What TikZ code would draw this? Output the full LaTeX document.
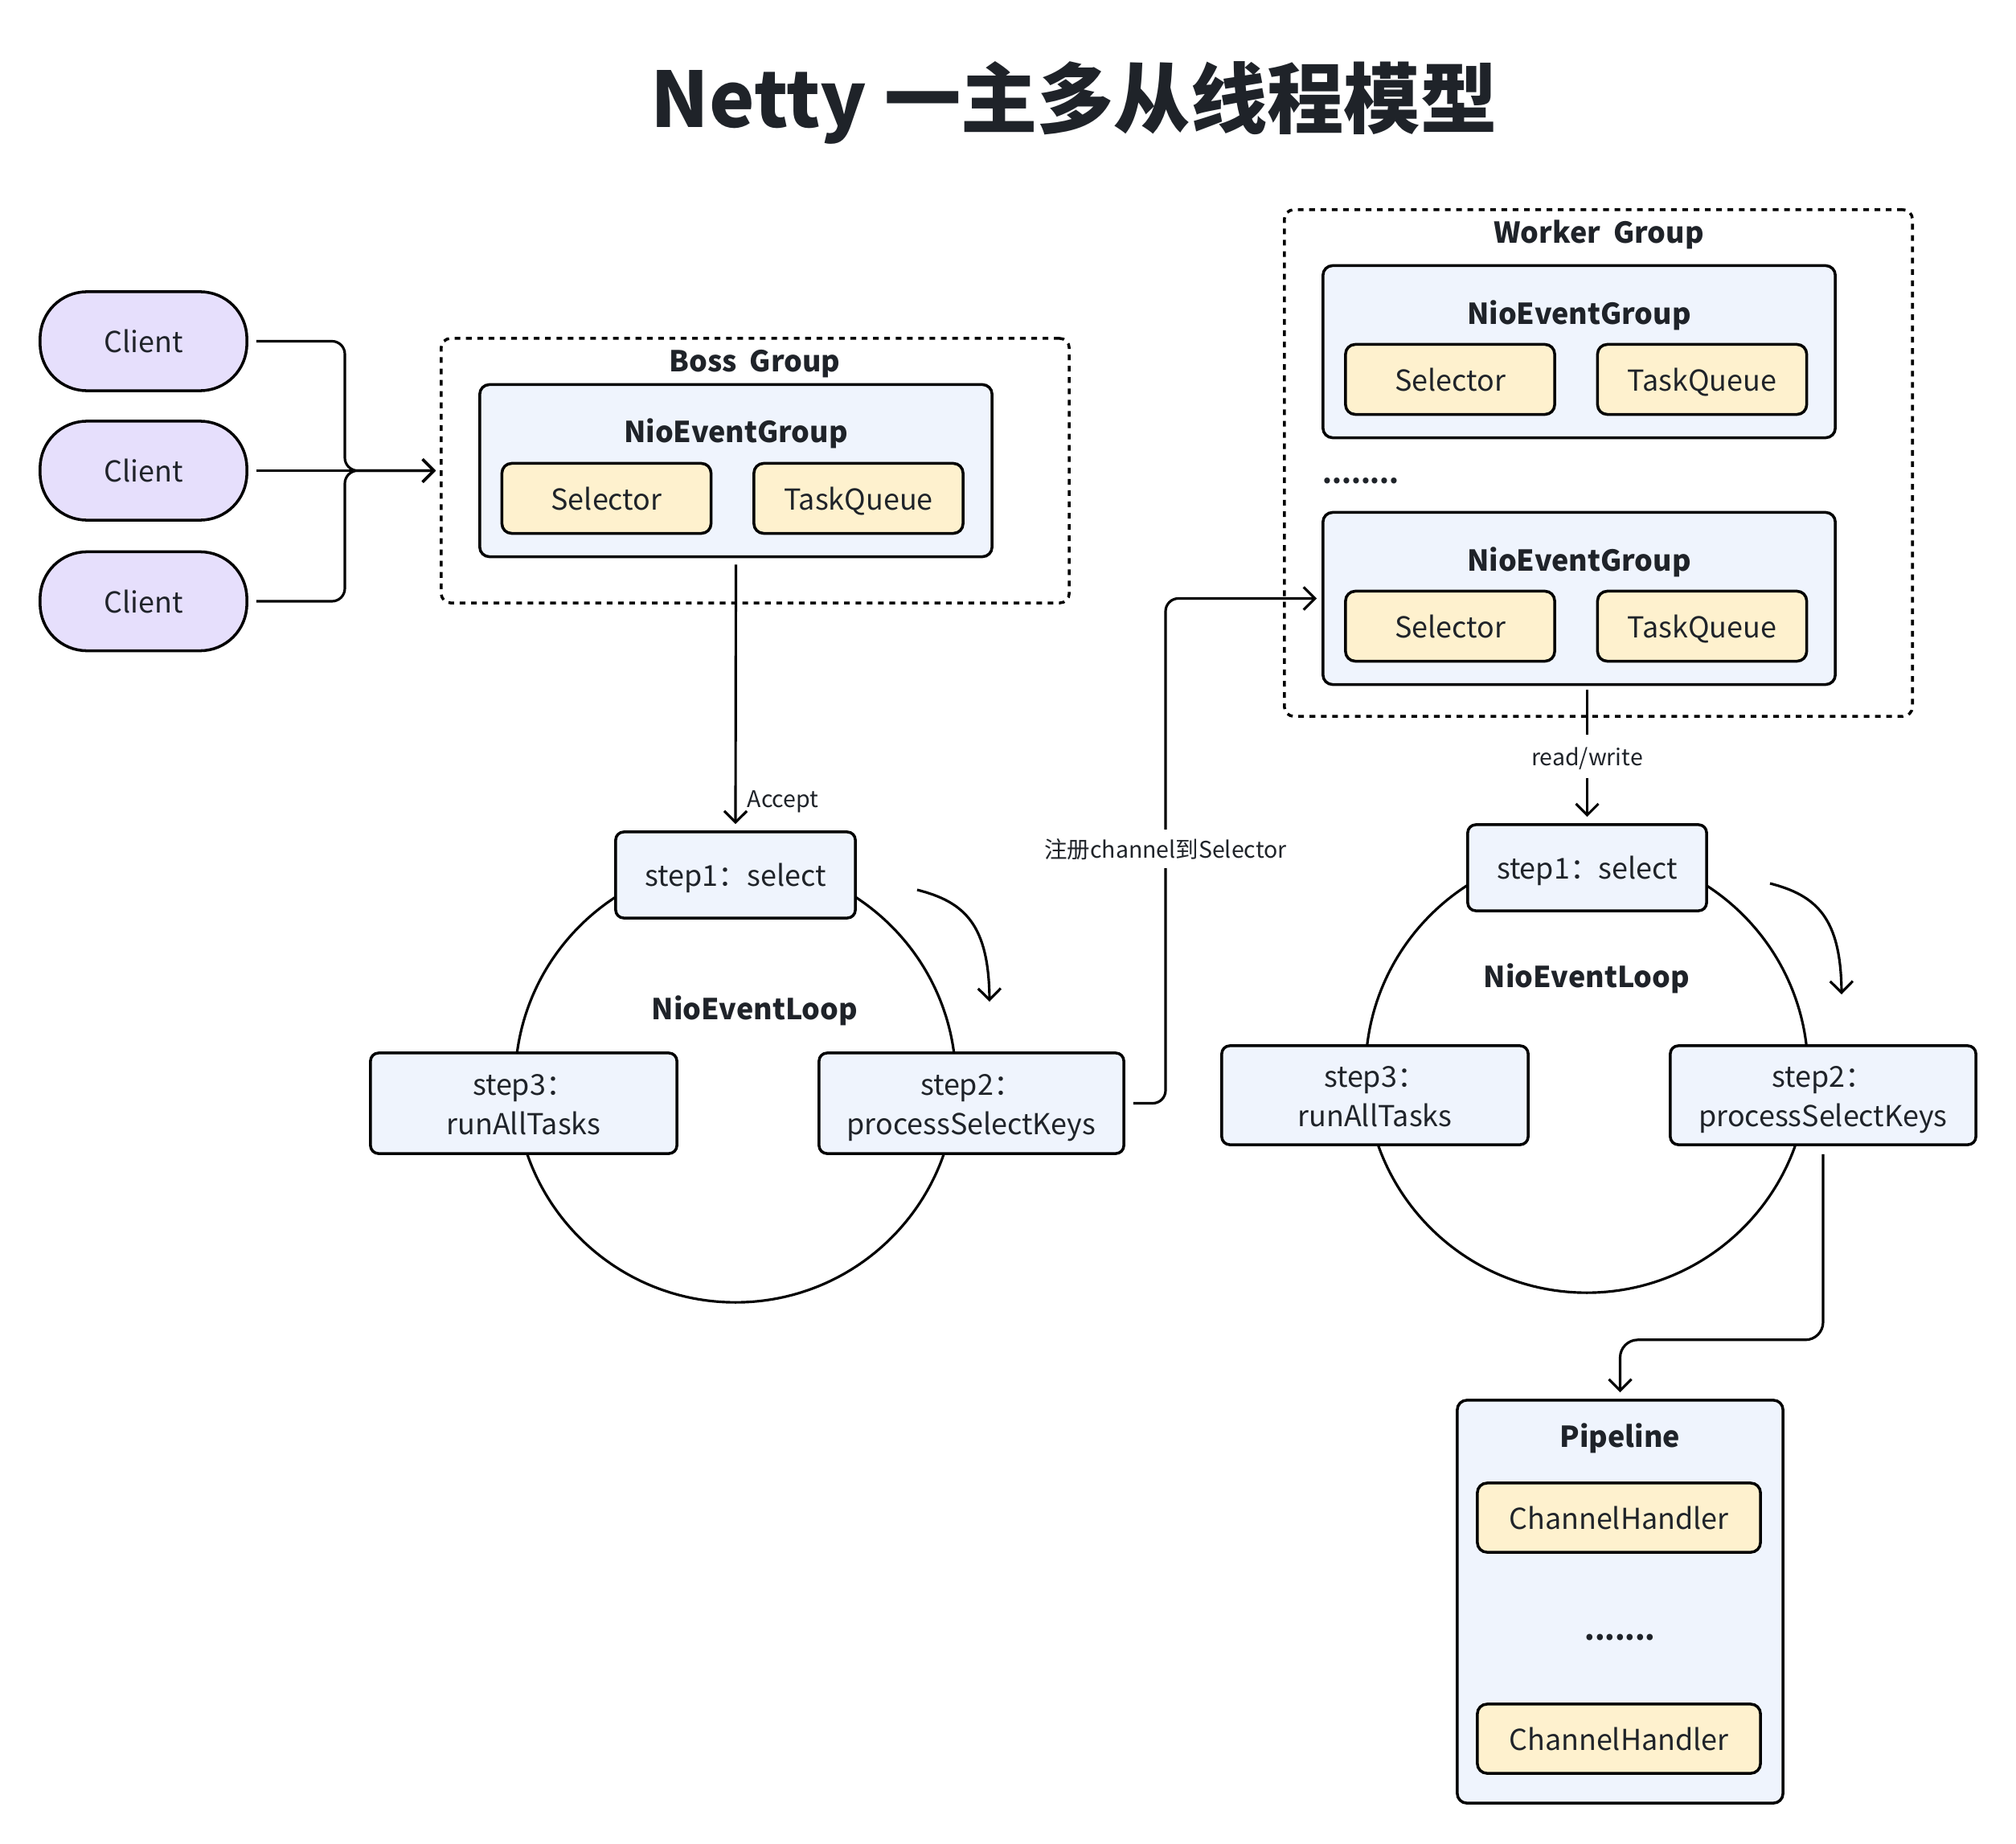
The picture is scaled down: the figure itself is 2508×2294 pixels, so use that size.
\documentclass[tikz,border=0pt]{standalone}
\usepackage{fontspec}
\setmainfont{Noto Sans CJK SC}
\usetikzlibrary{arrows.meta,calc}
\definecolor{txt}{HTML}{1F2329}
\definecolor{cfill}{HTML}{E6DFFC}
\definecolor{bfill}{HTML}{EFF4FD}
\definecolor{yfill}{HTML}{FEF1CE}
\tikzset{
 base/.style={draw=black, line width=1pt, text=txt, inner sep=0pt, font=\fontsize{10.2}{14}\selectfont, align=center, text height=10pt, text depth=1.8pt},
 twoline/.style={text height=24pt, text depth=1.8pt},
 client/.style={base, fill=cfill, rounded corners=0.58cm, minimum width=2.57cm, minimum height=1.23cm},
 grp/.style={base, fill=bfill, rounded corners=0.12cm, minimum width=6.37cm, minimum height=2.14cm},
 item/.style={base, fill=yfill, rounded corners=0.12cm, minimum width=2.6cm, minimum height=0.87cm},
 stepbox/.style={base, fill=bfill, rounded corners=0.1cm},
 dotbox/.style={draw=black, line width=1pt, dash pattern=on 2pt off 2pt, rounded corners=0.12cm, inner sep=0pt, minimum width=7.81cm},
 lbl/.style={text=txt, font=\bfseries\fontsize{10.2}{12}\selectfont, inner sep=0pt, text height=10pt, text depth=1.8pt},
 dots/.style={text=txt, font=\bfseries\fontsize{10.2}{12}\selectfont, inner sep=0pt},
 small/.style={text=txt, font=\fontsize{8.1}{10}\selectfont, inner sep=2pt, text height=8pt, text depth=1.4pt},
 conn/.style={draw=black, line width=0.9pt, -{Straight Barb[length=4pt,width=8pt]}},
 loopc/.style={draw=black, line width=0.9pt},
}
\begin{document}
\begin{tikzpicture}[x=0.01cm,y=-0.01cm]
\useasboundingbox (0,0) rectangle (2508,2294);
% title
\node[text=txt, inner sep=0pt] (title) at (1336,128) {\bfseries\fontsize{27.1}{32}\selectfont Netty 一主多从线程模型};

% clients
\node[client] (c1) at (178.5,424.5) {Client};
\node[client] (c2) at (178.5,585.5) {Client};
\node[client] (c3) at (178.5,748) {Client};

% boss group
\node[dotbox, minimum height=3.29cm] (boss) at (939.5,585.5) {};
\node[lbl] (bosslbl) at (939,448) {Boss\hspace{0.45em}Group};
\node[grp] (bneg) at (915.5,585.5) {};
\node[lbl] (bneglbl) at (915.5,536) {NioEventGroup};
\node[item] (bsel) at (754.5,620) {Selector};
\node[item] (btq) at (1068,620) {TaskQueue};

% boss loop
\draw[loopc] (915,1346) circle[radius=2.74cm];
\node[stepbox, minimum width=2.98cm, minimum height=1.07cm] (bstep1) at (915,1088.5) {step1：select};
\node[stepbox, twoline, minimum width=3.81cm, minimum height=1.25cm] (bstep3) at (651.5,1372.5) {step3：\\runAllTasks};
\node[stepbox, twoline, minimum width=3.79cm, minimum height=1.25cm] (bstep2) at (1208.5,1372.5) {step2：\\processSelectKeys};
\node[lbl] (bloop) at (939,1254) {NioEventLoop};

% worker group
\node[dotbox, minimum height=6.30cm] (worker) at (1988.5,576) {};
\node[lbl] (workerlbl) at (1989,288) {Worker\hspace{0.45em}Group};
\node[grp] (wneg1) at (1964.5,437.5) {};
\node[lbl] (wneg1lbl) at (1964.5,389) {NioEventGroup};
\node[item] (wsel1) at (1804,472) {Selector};
\node[item] (wtq1) at (2117.5,472) {TaskQueue};
\node[dots, anchor=west, font=\bfseries\fontsize{9.6}{12}\selectfont] (wdots) at (1645,598) {........};
\node[grp] (wneg2) at (1964.5,744.5) {};
\node[lbl] (wneg2lbl) at (1964.5,696) {NioEventGroup};
\node[item] (wsel2) at (1804,779) {Selector};
\node[item] (wtq2) at (2117.5,779) {TaskQueue};

% worker loop
\draw[loopc] (1974,1333) circle[radius=2.75cm];
\node[stepbox, minimum width=2.97cm, minimum height=1.07cm] (wstep1) at (1974.5,1079.5) {step1：select};
\node[stepbox, twoline, minimum width=3.81cm, minimum height=1.23cm] (wstep3) at (1710.5,1362.5) {step3：\\runAllTasks};
\node[stepbox, twoline, minimum width=3.80cm, minimum height=1.23cm] (wstep2) at (2268,1362.5) {step2：\\processSelectKeys};
\node[lbl] (wloop) at (1974,1214) {NioEventLoop};

% pipeline
\node[grp, minimum width=4.05cm, minimum height=5.01cm] (pipe) at (2015.5,1992.5) {};
\node[lbl] (pipelbl) at (2015.5,1786) {Pipeline};
\node[item, minimum width=3.52cm, minimum height=0.86cm] (ch1) at (2014,1888) {ChannelHandler};
\node[dots] (pdots) at (2015.5,2037) {.......};
\node[item, minimum width=3.52cm, minimum height=0.86cm] (ch2) at (2014,2163) {ChannelHandler};

% connectors: clients -> boss
\coordinate (jn) at (429,585.5);
\coordinate (bin) at ([xshift=-0.05cm]boss.west);
\draw[conn, rounded corners=0.16cm] ([xshift=0.1cm]c1.east) -| (jn) -- (bin);
\draw[conn, rounded corners=0.16cm] ([xshift=0.1cm]c3.east) -| (jn) -- (bin);
\draw[conn] ([xshift=0.1cm]c2.east) -- (bin);

% accept
\draw[conn] ([yshift=-0.08cm]bneg.south) -- ([yshift=0.08cm]bstep1.north);
\node[small, anchor=west] (acc) at (922,993) {Accept};

% boss step1 -> step2 curve
\coordinate (ba1) at (1141,1107);
\coordinate (ba2) at (1231,1246);
\draw[conn] (ba1) .. controls (1200,1122) and (1230,1150) .. (ba2);

% register channel
\coordinate (regx) at (1450,1056);
\draw[conn, rounded corners=0.16cm] ([xshift=0.1cm]bstep2.east) -| (regx) |- ([xshift=-0.06cm]wneg2.west);
\node[small, fill=white] (reglbl) at (regx) {注册channel到Selector};

% read/write
\draw[conn] ([yshift=-0.05cm]wstep1.north |- wneg2.south) -- node[small, fill=white, inner sep=3pt, yshift=-0.04cm] (rw) {read/write} ([yshift=0.08cm]wstep1.north);

% worker step1 -> step2 curve
\coordinate (wa1) at (2202,1099);
\coordinate (wa2) at (2291,1237);
\draw[conn] (wa1) .. controls (2260,1114) and (2290,1142) .. (wa2);

% step2 -> pipeline
\draw[conn, rounded corners=0.22cm] ([yshift=-0.1cm]wstep2.south) -- ++(0,231) -| ([yshift=0.08cm]pipe.north);
\end{tikzpicture}
\end{document}
